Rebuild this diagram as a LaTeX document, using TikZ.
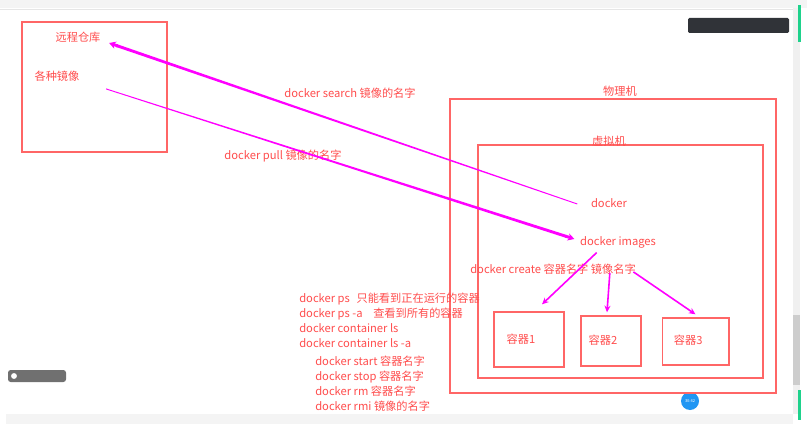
\documentclass[tikz,border=0pt]{standalone}
\usepackage{fontspec}
\setmainfont{Noto Sans CJK SC}
\usepackage{tikz}
\usetikzlibrary{positioning,calc,arrows.meta}

\definecolor{boxred}{RGB}{255,102,102}
\definecolor{txtred}{RGB}{255,77,77}
\definecolor{arrmag}{RGB}{255,0,255}
\definecolor{uigray}{RGB}{244,244,244}
\definecolor{uiline}{RGB}{230,230,230}
\definecolor{scroll}{RGB}{240,240,240}
\definecolor{thumb}{RGB}{205,205,205}
\definecolor{uigreen}{RGB}{30,210,140}
\definecolor{uidark}{RGB}{48,51,56}
\definecolor{uimid}{RGB}{112,112,112}
\definecolor{uiblue}{RGB}{33,150,243}

\begin{document}
\begin{tikzpicture}[x=0.75pt, y=-0.75pt,
    every node/.style={text=txtred, font=\fontsize{8.4}{11.2}\selectfont},
    frame/.style={draw=boxred, line width=1pt},
    cont/.style={frame, inner sep=0pt},
    flow/.style={draw=arrmag, line width=1.2pt, -{Stealth[length=5pt,width=4.5pt]}}]

  \fill[white] (0,0) rectangle (807,424);
  \useasboundingbox (0,0) rectangle (807,424);

  % screen bits round the drawing
  \fill[uigray] (0,0) rectangle (807,8);
  \draw[uiline] (0,9) -- (793,9);
  \fill[uigray] (6,414) rectangle (793,424);
  \fill[scroll] (793,8) rectangle (800,414);
  \fill[thumb] (793,315) rectangle (800,385);
  \fill[uigreen] (798,5) rectangle (801,42);
  \fill[uigreen] (798,390) rectangle (801,420);
  \fill[uidark, rounded corners=1pt] (688,18) rectangle (789,33);
  \fill[uimid, rounded corners=2pt] (8,370) rectangle (66,382);
  \fill[white] (14,376) circle (2.2pt);
  \node[circle, fill=uiblue, minimum size=13.5pt, inner sep=0pt, text=white,
    font=\fontsize{3}{3}\selectfont] (clock) at (690,401) {30:42};

  % the boxes
  \draw[frame] (22,22) rectangle (167,152);
  \draw[frame] (450,99) rectangle (776,393);
  \draw[frame] (478,145) rectangle (763,378);

  % labels
  \node (yuancheng) at (78,37) {远程仓库};
  \node (jingxiang) at (57,76) {各种镜像};
  \node (wuliji) at (620,91) {物理机};
  \node (xuniji) at (609,141) {虚拟机};
  \node (search) at (350,93) {docker search 镜像的名字};
  \node (pull) at (283,156) {docker pull 镜像的名字};
  \node (docker) at (609,203) {docker};
  \node (images) at (618,242) {docker images};
  \node (create) at (553,269) {docker create 容器名字 镜像名字};

  % containers
  \node[cont, minimum width=52.5pt, minimum height=41.25pt] (c1) at (529,339.5) {容器1\rule{12pt}{0pt}};
  \node[cont, minimum width=45pt, minimum height=37.5pt] (c2) at (611,341) {\raisebox{2pt}{容器2}\rule{12pt}{0pt}};
  \node[cont, minimum width=50pt, minimum height=35.25pt] (c3) at (695.5,341.5) {\raisebox{2pt}{容器3}\rule{11pt}{0pt}};

  % command lists
  \node[anchor=west, align=left, inner sep=0pt] (pslist) at (299,320.5)
    {docker ps\hspace{5pt}只能看到正在运行的容器\\
     docker ps -a\hspace{8pt}查看到所有的容器\\
     docker container ls\\
     docker container ls -a};
  \node[anchor=west, align=left, inner sep=0pt] (cmdlist) at (315,384)
    {docker start 容器名字\\
     docker stop 容器名字\\
     docker rm 容器名字\\
     docker rmi 镜像的名字};

  % search: from docker back to the remote store
  \coordinate (searchS) at ($(docker.west)+(-9,1)$);
  \coordinate (searchT) at ($(yuancheng.east)+(4,6)$);
  \coordinate (searchB) at ($(searchT)!6pt!(searchS)$);
  \fill[arrmag] ($(searchS)!0.35pt!90:(searchB)$) -- ($(searchB)!1.1pt!-90:(searchS)$)
    -- ($(searchB)!1.1pt!90:(searchS)$) -- ($(searchS)!0.35pt!-90:(searchB)$) -- cycle;
  \draw[arrmag, line width=2.2pt, -{Stealth[length=5pt,width=5.5pt]}]
    ($(searchB)!1pt!(searchS)$) -- (searchT);

  % pull: from the images down to docker images
  \coordinate (pullS) at ($(jingxiang.south east)+(22,3)$);
  \coordinate (pullT) at ($(images.west)+(-1,-3)$);
  \coordinate (pullB) at ($(pullT)!6pt!(pullS)$);
  \fill[arrmag] ($(pullS)!0.35pt!90:(pullB)$) -- ($(pullB)!1.1pt!-90:(pullS)$)
    -- ($(pullB)!1.1pt!90:(pullS)$) -- ($(pullS)!0.35pt!-90:(pullB)$) -- cycle;
  \draw[arrmag, line width=2.2pt, -{Stealth[length=5pt,width=5.5pt]}]
    ($(pullB)!1pt!(pullS)$) -- (pullT);

  % create the containers
  \coordinate (fromImg) at ($(images.south)!0.5!(images.south west)$);
  \draw[flow] (fromImg) -- ([shift={(13,-7)}]c1.north);
  \draw[flow] ($(create.south)!0.65!(create.south east)+(0,-6)$) -- ([shift={(-4,-3)}]c2.north);
  \draw[flow] ($(create.south east)+(-7,-7)$) -- ([shift={(0,-3)}]c3.north);
\end{tikzpicture}
\end{document}
